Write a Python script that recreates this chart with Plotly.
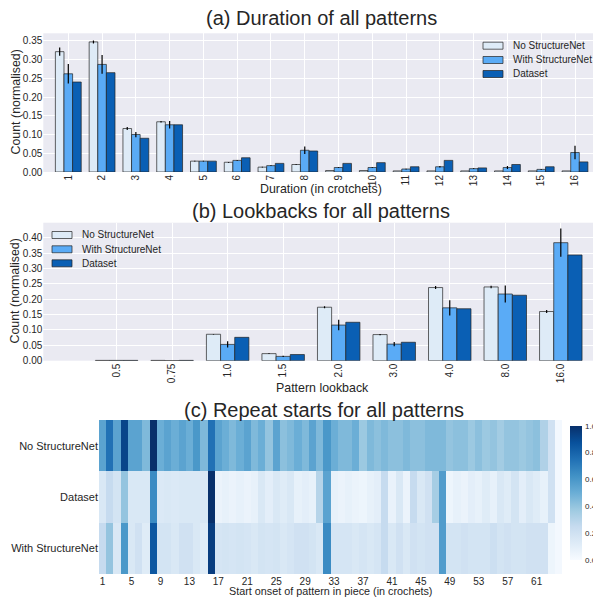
import plotly.graph_objects as go
import plotly.express as px

# the page body has an 8px margin, so the figure is placed at (8, 8)
OFF = 8
W, H = 601 - OFF, 597 - OFF
def fx(x): return (x - OFF) / W
def fy(y): return 1 - (y - OFF) / H

FONT = "Liberation Sans, Arial, sans-serif"
TXT = "#262626"
BG = "#EAEAF2"

# ---------------- Panel (a): duration ----------------
durations = list(range(1, 17))
dur_no_sn = [0.321, 0.347, 0.116, 0.134, 0.029, 0.026, 0.013, 0.020, 0.004, 0.004, 0.003, 0.003, 0.003, 0.003, 0.003, 0.003]
dur_no_sn_err = [0.011, 0.004, 0.004, 0.002, 0.001, 0.001, 0.001, 0.001, 0.0, 0.0, 0.0, 0.0, 0.0, 0.0, 0.0, 0.0]
dur_with_sn = [0.262, 0.287, 0.100, 0.126, 0.029, 0.031, 0.017, 0.058, 0.012, 0.012, 0.008, 0.014, 0.009, 0.012, 0.007, 0.052]
dur_with_sn_err = [0.026, 0.025, 0.007, 0.010, 0.001, 0.001, 0.001, 0.010, 0.001, 0.001, 0.001, 0.002, 0.001, 0.004, 0.001, 0.018]
dur_dataset = [0.240, 0.265, 0.090, 0.126, 0.029, 0.038, 0.023, 0.056, 0.023, 0.025, 0.014, 0.031, 0.011, 0.020, 0.014, 0.027]

# ---------------- Panel (b): lookback ----------------
lookback_labels = ["0.5", "0.75", "1.0", "1.5", "2.0", "3.0", "4.0", "8.0", "16.0"]
lb_no_sn = [0.001, 0.001, 0.086, 0.023, 0.174, 0.085, 0.238, 0.240, 0.160]
lb_no_sn_err = [0.0, 0.0, 0.001, 0.001, 0.003, 0.002, 0.005, 0.004, 0.005]
lb_with_sn = [0.001, 0.0, 0.053, 0.014, 0.116, 0.054, 0.172, 0.217, 0.384]
lb_with_sn_err = [0.0, 0.0, 0.010, 0.002, 0.017, 0.007, 0.025, 0.028, 0.046]
lb_dataset = [0.001, 0.001, 0.076, 0.020, 0.125, 0.060, 0.169, 0.213, 0.344]

# ---------------- Panel (c): repeat starts heatmap ----------------
onsets = list(range(1, 65))
onset_ticks = list(range(1, 62, 4))
rs_no_sn = [0.55, 0.75, 0.55, 0.92, 0.55, 0.55, 0.45, 1.00, 0.50, 0.55, 0.50, 0.55, 0.50, 0.60, 0.45, 0.75,
            0.55, 0.50, 0.45, 0.50, 0.55, 0.45, 0.50, 0.40, 0.55, 0.42, 0.45, 0.50, 0.45, 0.55, 0.45, 0.60,
            0.50, 0.45, 0.45, 0.50, 0.38, 0.45, 0.42, 0.45, 0.42, 0.42, 0.45, 0.42, 0.42, 0.45, 0.45, 0.45,
            0.40, 0.42, 0.42, 0.38, 0.42, 0.38, 0.40, 0.36, 0.40, 0.40, 0.38, 0.40, 0.42, 0.32, 0.20, 0.02]
rs_dataset = [0.15, 0.25, 0.18, 0.40, 0.15, 0.15, 0.15, 0.65, 0.14, 0.15, 0.14, 0.15, 0.15, 0.15, 0.15, 1.00,
              0.06, 0.08, 0.06, 0.08, 0.06, 0.08, 0.15, 0.10, 0.15, 0.12, 0.15, 0.08, 0.10, 0.08, 0.30, 0.55,
              0.08, 0.06, 0.08, 0.06, 0.05, 0.08, 0.10, 0.25, 0.07, 0.15, 0.06, 0.25, 0.15, 0.20, 0.35, 0.58,
              0.05, 0.08, 0.06, 0.10, 0.08, 0.12, 0.08, 0.15, 0.12, 0.18, 0.10, 0.15, 0.12, 0.08, 0.20, 0.02]
rs_with_sn = [0.25, 0.40, 0.15, 0.60, 0.15, 0.20, 0.12, 0.85, 0.18, 0.18, 0.15, 0.20, 0.20, 0.15, 0.12, 0.95,
              0.17, 0.18, 0.17, 0.18, 0.17, 0.15, 0.18, 0.17, 0.18, 0.15, 0.17, 0.20, 0.20, 0.18, 0.15, 0.65,
              0.17, 0.17, 0.17, 0.15, 0.17, 0.15, 0.17, 0.25, 0.15, 0.20, 0.15, 0.20, 0.18, 0.20, 0.20, 0.58,
              0.18, 0.18, 0.20, 0.18, 0.18, 0.18, 0.22, 0.18, 0.20, 0.18, 0.18, 0.20, 0.20, 0.20, 0.05, 0.02]
row_labels = ["With StructureNet", "Dataset", "No StructureNet"]
cbar_ticks = [0.0, 0.2, 0.4, 0.6, 0.8, 1.0]

series_names = ["No StructureNet", "With StructureNet", "Dataset"]
colors = ["#deebf7", "#5aabf6", "#0a5fb4"]
edge = "rgba(35,35,35,0.7)"

fig = go.Figure()

def add_bars(xvals, ys, errs, xa, ya):
    for name, col, y, e in zip(series_names, colors, ys, errs):
        kw = {}
        if e is not None:
            kw["error_y"] = dict(type="data", array=e, color="black", thickness=1.2, width=0)
        fig.add_trace(go.Bar(x=xvals, y=y, name=name, marker=dict(color=col, line=dict(color=edge, width=1)),
                             xaxis=xa, yaxis=ya, showlegend=False, **kw))

add_bars(durations, [dur_no_sn, dur_with_sn, dur_dataset], [dur_no_sn_err, dur_with_sn_err, None], "x", "y")
lb_pos = list(range(len(lookback_labels)))
add_bars(lb_pos, [lb_no_sn, lb_with_sn, lb_dataset], [lb_no_sn_err, lb_with_sn_err, None], "x2", "y2")

CB_TOP, CB_BOT = 426, 560
blues = px.colors.sequential.Blues
fig.add_trace(go.Heatmap(
    z=[rs_with_sn, rs_dataset, rs_no_sn], x=onsets, y=row_labels,
    colorscale=blues, zmin=0, zmax=1, xaxis="x3", yaxis="y3",
    colorbar=dict(x=fx(570), xanchor="left", xpad=0, ypad=0, thickness=12,
                  lenmode="fraction", len=(CB_BOT - CB_TOP) / H, y=fy((CB_TOP + CB_BOT) / 2), yanchor="middle",
                  outlinewidth=0, tickvals=cbar_ticks, showticklabels=False, ticks="")))

grid = dict(showgrid=True, gridcolor="white", gridwidth=1, zeroline=False, showline=False, ticks="",
            tickfont=dict(size=10, color=TXT, family=FONT))

fig.update_layout(
    width=W, height=H, paper_bgcolor="white", plot_bgcolor=BG,
    margin=dict(l=0, r=0, t=0, b=0, autoexpand=False),
    barmode="group", bargap=0.235, bargroupgap=0,
    font=dict(family=FONT, color=TXT),
    showlegend=False,
    xaxis=dict(domain=[fx(43.3), fx(600)], anchor="y", range=[0.26, 16.74], tickvals=durations,
               tickangle=-90, **grid),
    yaxis=dict(domain=[fy(172), fy(33.3)], anchor="x", range=[0, 0.37], dtick=0.05, tickformat=".2f", **grid),
    xaxis2=dict(domain=[fx(43.3), fx(598)], anchor="y2", range=[-1.32, 8.67], tickvals=lb_pos,
                ticktext=lookback_labels, tickangle=-90, **grid),
    yaxis2=dict(domain=[fy(360.7), fy(222.7)], anchor="x2", range=[0, 0.449], dtick=0.05, tickformat=".2f", **grid),
    xaxis3=dict(domain=[fx(99), fx(562)], anchor="y3", range=[0.5, 64.5], tickvals=onset_ticks,
                showgrid=False, zeroline=False, showline=False, ticks="", tickangle=0,
                tickfont=dict(size=10, color=TXT, family=FONT)),
    yaxis3=dict(domain=[fy(574), fy(420)], anchor="x3", showgrid=False, zeroline=False, ticks="",
                tickfont=dict(size=11, color=TXT, family=FONT)),
)

def ann(text, x, y, size, angle=0, xanchor="center"):
    fig.add_annotation(text=text, x=fx(x), y=fy(y), xref="paper", yref="paper", showarrow=False,
                       xanchor=xanchor, yanchor="middle", textangle=angle, borderpad=0,
                       font=dict(size=size, color=TXT, family=FONT))

# colorbar tick labels (placed as text next to the colorbar)
for t in cbar_ticks:
    ann(f"{t:.1f}", 583.5, CB_BOT - t * (CB_BOT - CB_TOP), 8, xanchor="left")

# manual legends (matplotlib-like wide patches, tight spacing)
def legend(x_box, text_x, rows):
    for name, col, yc in zip(series_names, colors, rows):
        fig.add_shape(type="rect", xref="paper", yref="paper",
                      x0=fx(x_box), x1=fx(x_box + 20), y0=fy(yc + 3.5), y1=fy(yc - 3.5),
                      fillcolor=col, line=dict(color=edge, width=1))
        ann(name, text_x, yc, 10, xanchor="left")

legend(483, 512, [45.7, 60, 74])
legend(52, 80.7, [235, 249.3, 263.3])

ann("(a) Duration of all patterns", 321, 18, 20)
ann("(b) Lookbacks for all patterns", 321, 211, 20)
ann("(c) Repeat starts for all patterns", 324, 410, 20)
ann("Duration (in crotchets)", 321, 189, 12.4)
ann("Pattern lookback", 322, 388, 12.4)
ann("Start onset of pattern in piece (in crochets)", 330, 590.5, 10.8)
ann("Count (normalised)", 15, 102.5, 12.4, -90)
ann("Count (normalised)", 15, 291.5, 12.4, -90)

fig.write_html("out.html")
